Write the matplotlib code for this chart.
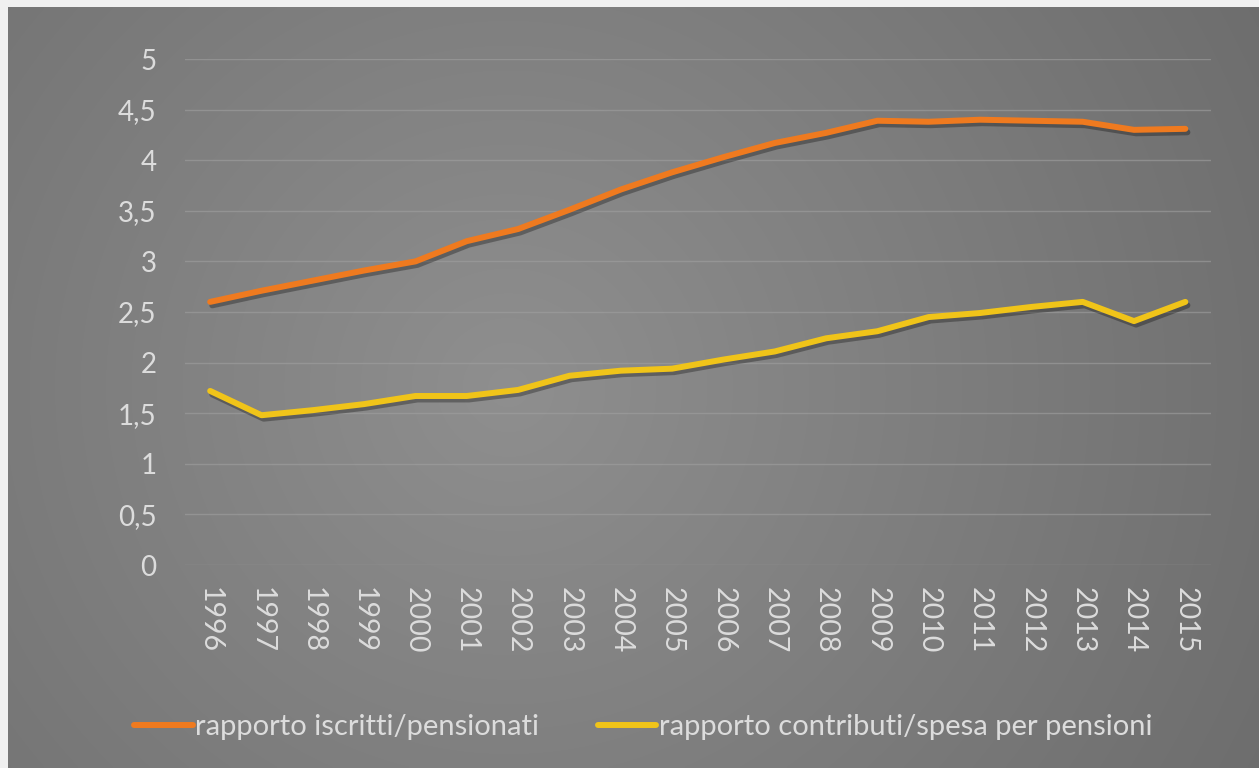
import numpy as np
import matplotlib.pyplot as plt
import matplotlib.patheffects as pe
from matplotlib.ticker import FuncFormatter

years = ["1996", "1997", "1998", "1999", "2000", "2001", "2002", "2003", "2004", "2005",
         "2006", "2007", "2008", "2009", "2010", "2011", "2012", "2013", "2014", "2015"]
iscritti = [2.60, 2.71, 2.81, 2.91, 3.00, 3.20, 3.32, 3.51, 3.71, 3.88,
            4.03, 4.17, 4.27, 4.39, 4.38, 4.40, 4.39, 4.38, 4.30, 4.31]
contributi = [1.72, 1.48, 1.53, 1.59, 1.67, 1.67, 1.73, 1.87, 1.92, 1.94,
              2.03, 2.11, 2.24, 2.31, 2.45, 2.49, 2.55, 2.60, 2.41, 2.60]
labels = ["rapporto iscritti/pensionati", "rapporto contributi/spesa per pensioni"]
colors = ["#ef7a1f", "#f0c419"]

plt.rcParams['font.family'] = ['Lato', 'DejaVu Sans']
W, H = 1259, 768
fig = plt.figure(figsize=(W / 100, H / 100), dpi=100)
fig.patch.set_facecolor("#f0f0f0")

# gray panel with radial gradient
bg = fig.add_axes([8 / W, 0, 1 - 8 / W, 1 - 7 / H])
yy, xx = np.mgrid[0:1:300j, 0:1:500j]
r = np.sqrt(((xx - 0.4) * 1.6) ** 2 + ((yy - 0.5) * 1.0) ** 2)
r = np.clip(r / r.max(), 0, 1)
g = 0.56 - 0.13 * r
bg.imshow(np.dstack([g, g, g]), aspect="auto", extent=[0, 1, 0, 1], interpolation="bilinear")
bg.set_axis_off()

ax = fig.add_axes([184.5 / W, 1 - 565 / H, (1211 - 184.5) / W, (565 - 59) / H])
ax.set_facecolor("none")
x = np.arange(len(years))
shadow = [pe.SimpleLineShadow(offset=(1.5, -2.5), shadow_color="black", alpha=0.3), pe.Normal()]
for vals, lab, c in zip([iscritti, contributi], labels, colors):
    ax.plot(x, vals, color=c, lw=4.3, solid_capstyle="round", solid_joinstyle="round",
            label=lab, path_effects=shadow, zorder=3)

ax.set_xlim(-0.5, len(years) - 0.5)
ax.set_ylim(0, 5)
ax.set_yticks(np.arange(0, 5.01, 0.5))
ax.yaxis.set_major_formatter(FuncFormatter(lambda v, p: ("%g" % v).replace(".", ",")))
ax.set_xticks(x)
ax.set_xticklabels(years, rotation=270)
ax.grid(axis="y", color="#a0a0a0", lw=1, alpha=0.6)
ax.set_axisbelow(True)
for s in ax.spines.values():
    s.set_visible(False)
ax.tick_params(length=0, colors="#dcdcdc")
ax.tick_params(axis="y", pad=20, labelsize=20)
ax.tick_params(axis="x", pad=16, labelsize=20.5)

leg = fig.legend(loc="center", bbox_to_anchor=(0.511, 1 - 727 / H), ncol=2, frameon=False,
                 fontsize=21, handlelength=2.0, handletextpad=0.1, columnspacing=2.0)
for t in leg.get_texts():
    t.set_color("#dcdcdc")
for h in leg.legend_handles:
    h.set_path_effects([])

fig.savefig("out.png", dpi=100, facecolor=fig.get_facecolor())
